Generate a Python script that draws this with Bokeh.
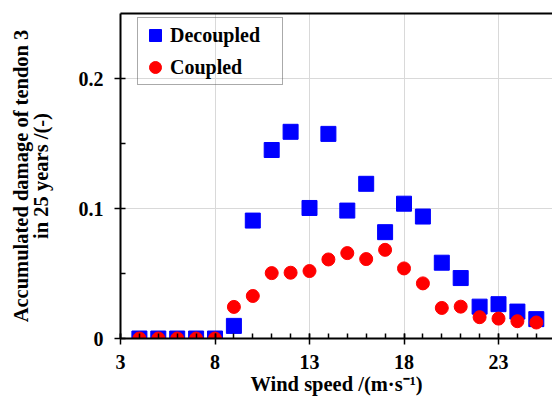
from bokeh.plotting import figure
from bokeh.models import FixedTicker, Range1d, Legend, LegendItem, LinearAxis
from bokeh.embed import file_html
from bokeh.resources import INLINE

wind_speed = [4, 5, 6, 7, 8, 9, 10, 11, 12, 13, 14, 15, 16, 17, 18, 19, 20, 21, 22, 23, 24, 25]
decoupled = [0.0, 0.0, 0.0, 0.0, 0.0, 0.0097, 0.0907, 0.145, 0.159, 0.1004, 0.1574, 0.0984,
             0.119, 0.0818, 0.1037, 0.0938, 0.0583, 0.0465, 0.0245, 0.0264, 0.0207, 0.0149]
coupled = [0.0, 0.0, 0.0, 0.0, 0.0, 0.0243, 0.0327, 0.0503, 0.0506, 0.0519, 0.0608, 0.0657,
           0.0611, 0.0682, 0.0539, 0.0424, 0.0235, 0.0245, 0.0164, 0.0153, 0.0133, 0.0123]
x_ticks = [3, 8, 13, 18, 23]
x_minor = list(range(3, 27))
y_ticks = [0, 0.1, 0.2]
y_minor = [0.05, 0.15]
series_names = ["Decoupled", "Coupled"]
x_title = "Wind speed /(m\u00b7s\u207b\u00b9)"
y_title = "Accumulated damage of tendon 3\nin 25 years /(-)"

FONT = "Liberation Serif"
FS_TICK = "20px"
FS_TITLE = "20.5px"

p = figure(width=552, height=399, output_backend="svg", toolbar_location=None,
           x_range=Range1d(3, 25.857), y_range=Range1d(0, 0.25),
           min_border_left=120, min_border_right=0, min_border_top=13, min_border_bottom=61)
p.outline_line_color = None
p.background_fill_color = "white"
p.border_fill_color = "white"

r_dec = p.scatter(wind_speed, decoupled, marker="square", size=15, color="#0000FF")
r_cou = p.scatter(wind_speed, coupled, marker="circle", size=13, color="#FF0000")

xa = p.xaxis[0]
ya = p.yaxis[0]
xa.ticker = FixedTicker(ticks=x_ticks, minor_ticks=x_minor)
ya.ticker = FixedTicker(ticks=y_ticks, minor_ticks=y_minor)
for ax in (xa, ya):
    ax.axis_line_width = 2
    ax.axis_line_color = "black"
    ax.major_tick_line_width = 1.5
    ax.minor_tick_line_width = 1.5
    ax.major_tick_line_color = "black"
    ax.minor_tick_line_color = "black"
    ax.major_tick_in = 5
    ax.major_tick_out = 6
    ax.minor_tick_in = 5
    ax.minor_tick_out = 0
    ax.major_label_text_font = FONT
    ax.major_label_text_font_style = "bold"
    ax.major_label_text_font_size = FS_TICK
    ax.major_label_text_color = "black"
    ax.axis_label_text_font = FONT
    ax.axis_label_text_font_style = "bold"
    ax.axis_label_text_font_size = FS_TITLE
    ax.axis_label_text_color = "black"

xa.axis_label = x_title
xa.major_label_standoff = 10
xa.axis_label_standoff = 1
ya.axis_label = y_title
ya.axis_label_text_line_height = 0.88
ya.major_label_standoff = 11
ya.axis_label_standoff = 24

top = LinearAxis(ticker=FixedTicker(ticks=[]), axis_line_width=2, axis_line_color="black",
                 major_tick_in=0, major_tick_out=0, minor_tick_in=0, minor_tick_out=0,
                 major_label_text_font_size="0px", major_label_standoff=0)
p.add_layout(top, "above")

p.xgrid.grid_line_color = "#d9d9d9"
p.ygrid.grid_line_color = "#d9d9d9"
p.xgrid.grid_line_width = 1
p.ygrid.grid_line_width = 1

legend = Legend(items=[LegendItem(label=series_names[0], renderers=[r_dec]),
                       LegendItem(label=series_names[1], renderers=[r_cou])],
                location=(17, 253), margin=0, padding=2, spacing=2,
                glyph_width=30, glyph_height=30, label_height=30,
                label_standoff=0, label_width=110,
                label_text_font=FONT, label_text_font_style="bold",
                label_text_font_size="20px", label_text_color="black",
                border_line_color="#555555", border_line_width=1.5,
                background_fill_alpha=0)
p.add_layout(legend, "center")

open("out.html", "w").write(file_html(p, INLINE))
